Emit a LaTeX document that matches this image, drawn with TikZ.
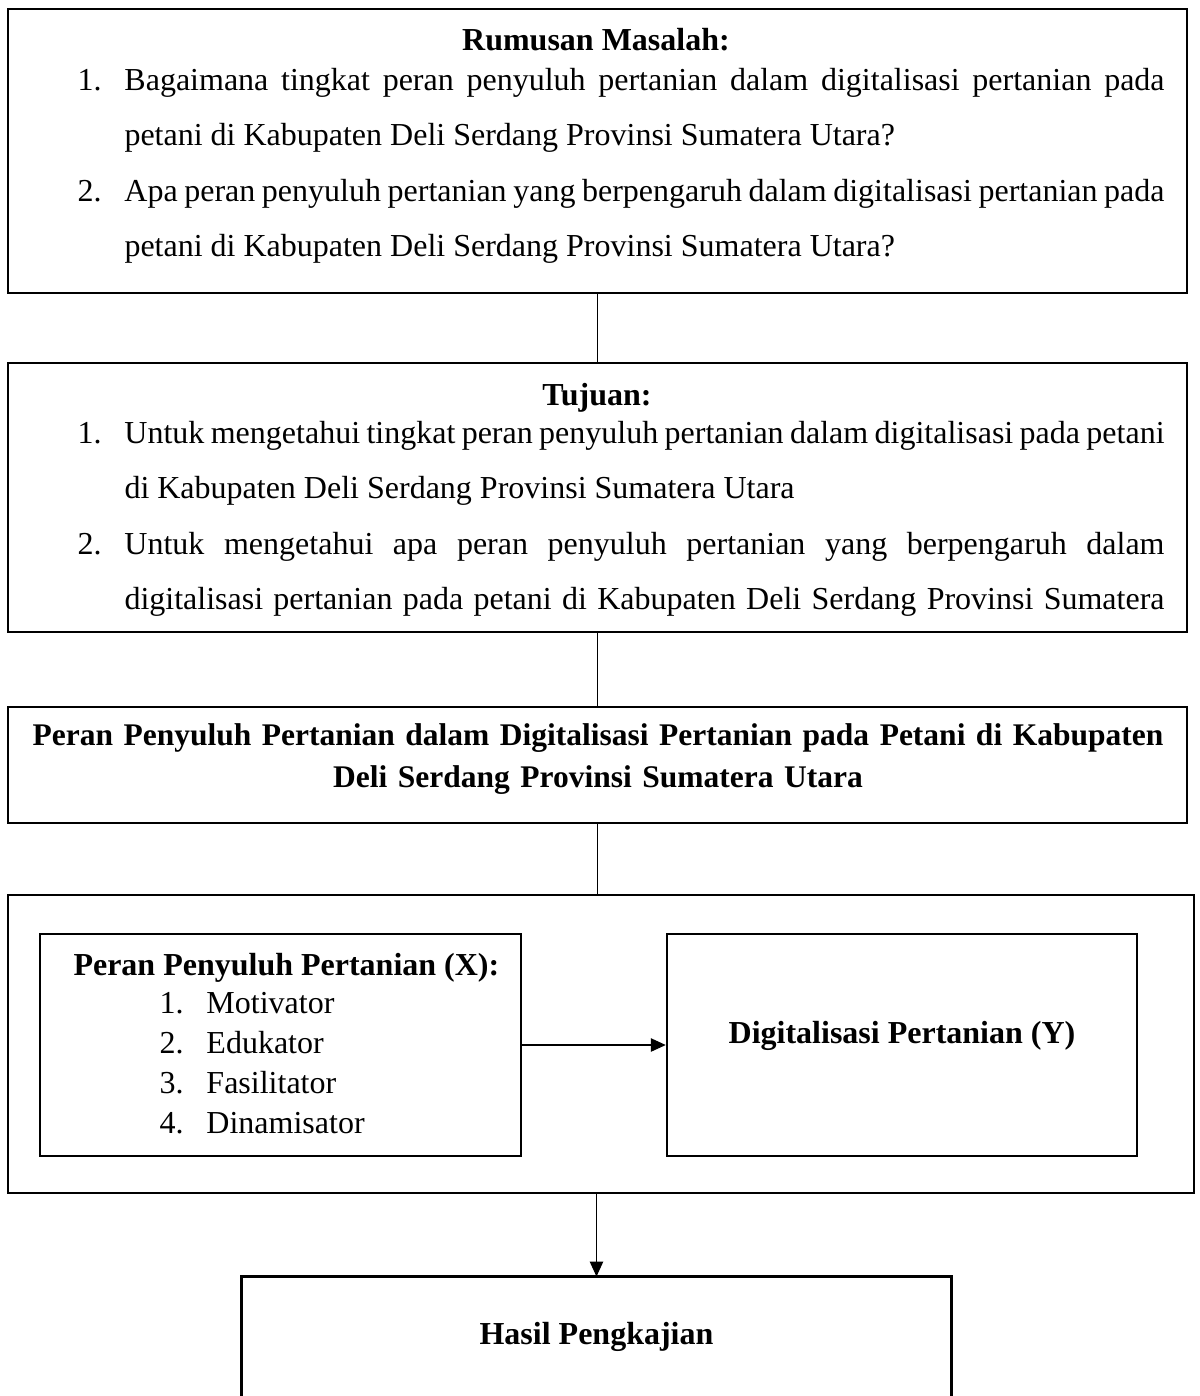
\documentclass[tikz,border=0pt]{standalone}
\usepackage{fontspec}
\setmainfont{Liberation Serif}
\usetikzlibrary{fit,arrows.meta}
\begin{document}
\begin{tikzpicture}[x=0.4pt,y=-0.4pt,
  bigbox/.style={draw, line width=1.1pt, inner sep=0pt},
  smallbox/.style={draw, line width=1pt, inner sep=0pt},
  boxline/.style={line width=1.1pt},
  link/.style={line width=0.45pt},
  arrowlink/.style={line width=0.45pt, -{Triangle[length=6pt,width=5.4pt]}},
  title/.style={font=\fontsize{12.8}{14}\selectfont\bfseries, inner sep=0pt, anchor=base},
  listtext/.style={inner sep=0pt, anchor=base west, text width=434.8pt, align=justify, font=\fontsize{12.8}{22.2}\selectfont},
]
\useasboundingbox (0,0) rectangle (1200,1396);

% boxes
\node[bigbox, fit={(8,9) (1187,293)}] (b1) {};
\node[bigbox, fit={(8,363) (1187,632)}] (b2) {};
\node[bigbox, fit={(8,707) (1187,823)}] (b3) {};
\node[bigbox, fit={(8,895) (1194,1193)}] (b4) {};
\node[smallbox, fit={(40,934) (521,1156)}] (xbox) {};
\node[smallbox, fit={(667,934) (1137,1156)}] (ybox) {};

% box 1
\node[title] (t1) at (596,50) {Rumusan Masalah:};
\node[listtext] (l1) at (77,90) {%
\hangindent=18.8pt\hangafter=1\makebox[18.8pt][l]{1.}Bagaimana tingkat peran penyuluh pertanian dalam digitalisasi pertanian pada\linebreak petani di Kabupaten Deli Serdang Provinsi Sumatera Utara?\par
\hangindent=18.8pt\hangafter=1\makebox[18.8pt][l]{2.}Apa peran penyuluh pertanian yang berpengaruh dalam digitalisasi pertanian pada\linebreak petani di Kabupaten Deli Serdang Provinsi Sumatera Utara?\par};

% box 2
\node[title] (t2) at (597,405) {Tujuan:};
\node[listtext] (l2) at (77,443) {%
\hangindent=18.8pt\hangafter=1\makebox[18.8pt][l]{1.}Untuk mengetahui tingkat peran penyuluh pertanian dalam digitalisasi pada petani\linebreak di Kabupaten Deli Serdang Provinsi Sumatera Utara\par
\hangindent=18.8pt\hangafter=1\makebox[18.8pt][l]{2.}Untuk mengetahui apa peran penyuluh pertanian yang berpengaruh dalam\linebreak digitalisasi pertanian pada petani di Kabupaten Deli Serdang Provinsi Sumatera\parfillskip=0pt\par};

% box 3
\node[inner sep=0pt, anchor=base, text width=468pt, align=center,
      font=\fontsize{12.6}{16.8}\selectfont\bfseries] (t3) at (598,745)
  {Peran Penyuluh Pertanian dalam Digitalisasi Pertanian pada Petani di Kabupaten\\ Deli Serdang Provinsi Sumatera Utara};

% box 4
\node[title, anchor=base west] (tx) at (73,975) {Peran Penyuluh Pertanian (X):};
\node[inner sep=0pt, anchor=base west, text width=200pt, align=left,
      font=\fontsize{12.8}{16}\selectfont] (lx) at (159,1013)
  {\makebox[18.8pt][l]{1.}Motivator\\
   \makebox[18.8pt][l]{2.}Edukator\\
   \makebox[18.8pt][l]{3.}Fasilitator\\
   \makebox[18.8pt][l]{4.}Dinamisator};
\node[title] (ty) at (902,1043) {Digitalisasi Pertanian (Y)};

% result box (open at the bottom edge of the page)
\node[inner sep=0pt, minimum width=283.6pt, minimum height=47.6pt,
      font=\fontsize{12.8}{14}\selectfont\bfseries] (hasil) at (596.5,1336.5) {Hasil Pengkajian};
\draw[boxline] (hasil.south west) -- (hasil.north west) -- (hasil.north east) -- (hasil.south east);

% connectors
\draw[link] (b1.south) -- (b2.north);
\draw[link] (b2.south) -- (b3.north);
\draw[link] (b3.south) -- (b3.south |- b4.north);
\draw[arrowlink] (xbox.east) -- (ybox.west);
\draw[arrowlink] (hasil.north |- b4.south) -- (hasil.north);
\end{tikzpicture}
\end{document}
